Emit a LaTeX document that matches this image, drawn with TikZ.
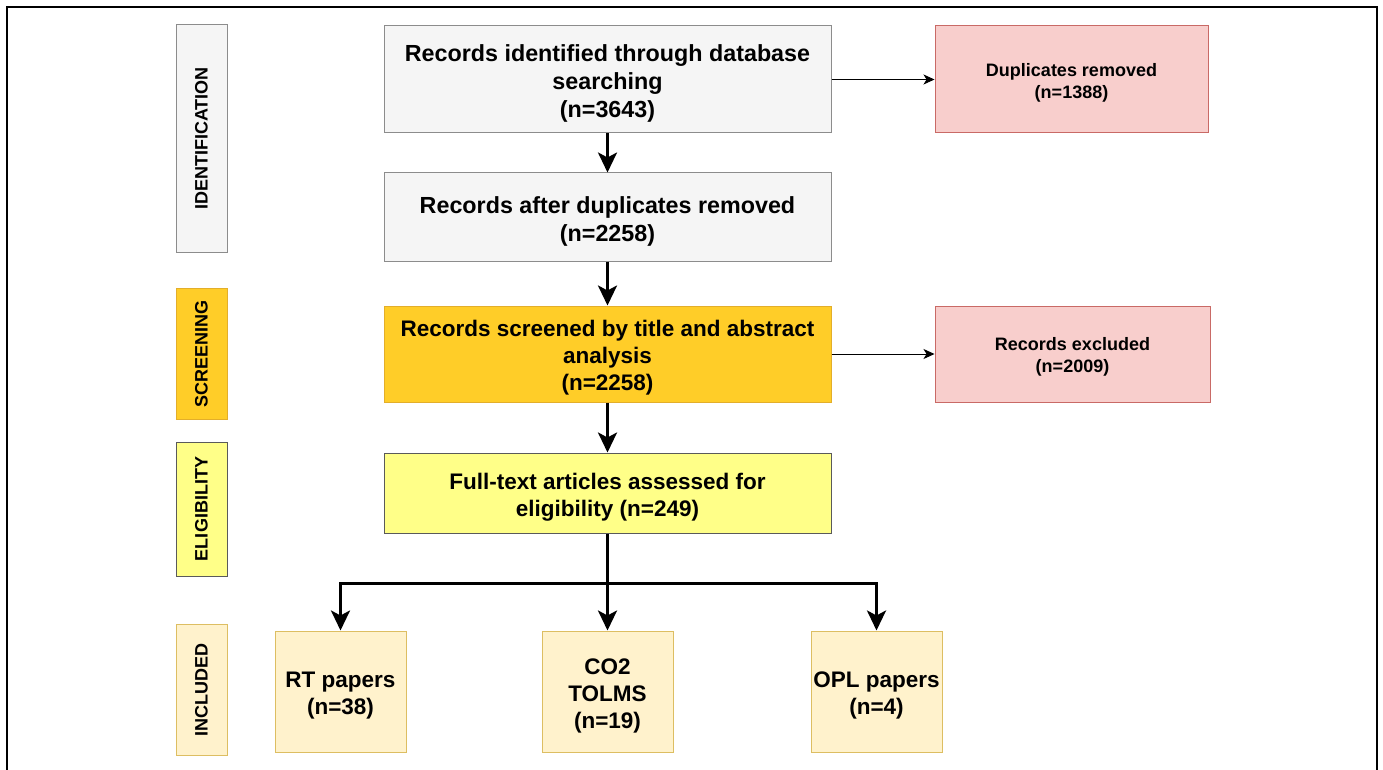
\documentclass[tikz,border=0pt]{standalone}
\usepackage{fontspec}
\setmainfont{Liberation Sans}
\usetikzlibrary{arrows.meta}
\definecolor{grayfill}{HTML}{F5F5F5}
\definecolor{graystroke}{HTML}{8C8C8C}
\definecolor{goldfill}{HTML}{FFCD28}
\definecolor{goldstroke}{HTML}{E3AE2A}
\definecolor{yelfill}{HTML}{FFFF88}
\definecolor{yelstroke}{HTML}{5A5A5A}
\definecolor{pinkfill}{HTML}{F8CECC}
\definecolor{pinkstroke}{HTML}{C96A66}
\definecolor{creamfill}{HTML}{FFF2CC}
\definecolor{creamstroke}{HTML}{DDBE62}
\tikzset{
  box/.style={draw, line width=1pt, inner sep=0pt},
  bigtext/.style={align=center, inner sep=0pt, yshift=-4pt,
    font=\bfseries\fontsize{22.5}{27}\selectfont},
  bigtextw/.style={align=center, inner sep=0pt, yshift=-4pt,
    font=\bfseries\fontsize{23.3}{28}\selectfont},
  smalltext/.style={align=center, inner sep=0pt, yshift=-3pt,
    font=\bfseries\fontsize{18}{22}\selectfont},
  sidebox/.style={draw, line width=1pt, inner sep=0pt, rotate=90,
    minimum height=51pt, font=\bfseries\fontsize{18}{21}\selectfont},
  bigarrow/.style={line width=3pt, -{Stealth[length=20pt,width=19pt,inset=5pt]}},
  thinarrow/.style={line width=1pt, -{Stealth[length=11pt,width=10pt,inset=3pt]}},
}
\begin{document}
\begin{tikzpicture}[x=1pt,y=-1pt]
\useasboundingbox (0,0) rectangle (1383,770);
\fill[white] (0,0) rectangle (1383,770);
% frame
\draw[line width=2.5pt] (7,770) -- (7,7) -- (1377,7) -- (1377,770);

% side labels
\node[sidebox, fill=grayfill, draw=graystroke, minimum width=227pt] (sid) at (201.5,138.5) {IDENTIFICATION};
\node[sidebox, fill=goldfill, draw=goldstroke, minimum width=131pt] (sscr) at (201.5,353.5) {SCREENING};
\node[sidebox, fill=yelfill, draw=yelstroke, minimum width=134pt] (selig) at (201.5,509) {ELIGIBILITY};
\node[sidebox, fill=creamfill, draw=creamstroke, minimum width=131pt] (sincl) at (201.5,689.5) {INCLUDED};

% main flow
\node[box, fill=grayfill, draw=graystroke, minimum width=447pt, minimum height=107pt,
  label={[bigtextw]center:{Records identified through database\\searching\\(n=3643)}}] (rec1) at (607.5,79.5) {};
\node[box, fill=grayfill, draw=graystroke, minimum width=447pt, minimum height=88pt,
  label={[bigtextw]center:{Records after duplicates removed\\(n=2258)}}] (rec2) at (607.5,217) {};
\node[box, fill=goldfill, draw=goldstroke, minimum width=447pt, minimum height=96pt,
  label={[bigtext]center:{Records screened by title and abstract\\analysis\\(n=2258)}}] (rec3) at (607.5,354) {};
\node[box, fill=yelfill, draw=yelstroke, minimum width=447pt, minimum height=80pt,
  label={[bigtext]center:{Full-text articles assessed for\\eligibility (n=249)}}] (rec4) at (607.5,493) {};

% side boxes
\node[box, fill=pinkfill, draw=pinkstroke, minimum width=273pt, minimum height=107pt,
  label={[smalltext]center:{Duplicates removed\\(n=1388)}}] (dup) at (1071.5,79.5) {};
\node[box, fill=pinkfill, draw=pinkstroke, minimum width=275pt, minimum height=96pt,
  label={[smalltext]center:{Records excluded\\(n=2009)}}] (exc) at (1072.5,354) {};

% included boxes
\node[box, fill=creamfill, draw=creamstroke, minimum width=131pt, minimum height=121pt,
  label={[bigtext]center:{RT papers\\(n=38)}}] (rt) at (340.5,691.5) {};
\node[box, fill=creamfill, draw=creamstroke, minimum width=131pt, minimum height=121pt,
  label={[bigtext]center:{CO2\\TOLMS\\(n=19)}}] (co2) at (607.5,691.5) {};
\node[box, fill=creamfill, draw=creamstroke, minimum width=131pt, minimum height=121pt,
  label={[bigtext]center:{OPL papers\\(n=4)}}] (opl) at (876.5,691.5) {};

% connectors
\draw[bigarrow] (rec1) -- (rec2);
\draw[bigarrow] (rec2) -- (rec3);
\draw[bigarrow] (rec3) -- (rec4);
\draw[thinarrow] (rec1) -- (dup);
\draw[thinarrow] (rec3) -- (exc);
\coordinate (br) at (607.5,583);
\draw[bigarrow] (rec4) -- (co2);
\draw[bigarrow] (br) -| (rt.north);
\draw[bigarrow] (br) -| (opl.north);
\end{tikzpicture}
\end{document}
